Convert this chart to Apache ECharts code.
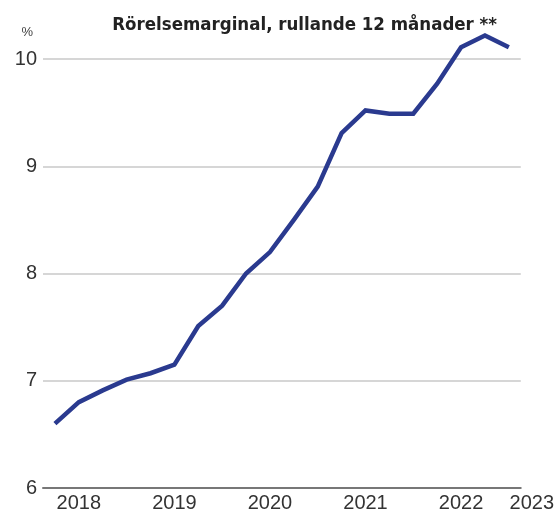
<!DOCTYPE html>
<html>
<head>
<meta charset="utf-8">
<script src="https://cdn.jsdelivr.net/npm/echarts@6/dist/echarts.min.js"></script>
<style>
  html, body { margin: 0; padding: 0; background: #fff; }
  #chart { width: 557px; height: 513px; }
</style>
</head>
<body>
<div id="chart"></div>
<script>
  // kvartal, rullande 12 mån
  var quarters = ['2017 K4', '2018 K1', '2018 K2', '2018 K3', '2018 K4',
    '2019 K1', '2019 K2', '2019 K3', '2019 K4',
    '2020 K1', '2020 K2', '2020 K3', '2020 K4',
    '2021 K1', '2021 K2', '2021 K3', '2021 K4',
    '2022 K1', '2022 K2', '2022 K3']
  var margin = [6.60, 6.80, 6.91, 7.01, 7.07, 7.15, 7.51, 7.70, 8.00, 8.20,
    8.50, 8.81, 9.31, 9.52, 9.49, 9.49, 9.77, 10.11, 10.22, 10.11]
  var yearLabels = ['2018', '2019', '2020', '2021', '2022', '2023']
  var yearIndex = [1, 5, 9, 13, 17, 19]

  var titleText = 'Rörelsemarginal, rullande 12 månader **'
  var labelFont = '"Liberation Sans", Arial, sans-serif'

  var chart = echarts.init(document.getElementById('chart'))
  chart.setOption({
    animation: false,
    title: {
      text: titleText,
      right: 55,
      top: 11,
      textStyle: {
        fontFamily: '"Liberation Sans Narrow", "DejaVu Sans Condensed", sans-serif',
        fontWeight: 'bold',
        fontSize: 18.5,
        color: '#222'
      }
    },
    grid: {
      left: 43,
      right: 33,
      top: 59,
      bottom: 24
    },
    xAxis: {
      type: 'category',
      data: quarters,
      boundaryGap: true,
      axisLine: { lineStyle: { color: '#777', width: 2 } },
      axisTick: { show: false },
      axisLabel: {
        interval: 0,
        margin: 5,
        fontFamily: labelFont,
        fontSize: 20,
        color: '#333',
        formatter: function (val, idx) {
          var k = yearIndex.indexOf(idx)
          if (k < 0) return ''
          if (k === yearLabels.length - 1) return '{last|' + yearLabels[k] + '}'
          return yearLabels[k]
        },
        rich: {
          last: {
            fontFamily: labelFont,
            fontSize: 20,
            color: '#333',
            padding: [0, 0, 0, 46]
          }
        }
      }
    },
    yAxis: {
      type: 'value',
      min: 6,
      max: 10,
      interval: 1,
      name: '%',
      nameLocation: 'end',
      nameGap: 20,
      nameTextStyle: {
        fontFamily: labelFont,
        fontSize: 13,
        color: '#444',
        align: 'right',
        padding: [0, 10, 0, 0]
      },
      axisLine: { show: false },
      axisTick: { show: false },
      axisLabel: {
        margin: 6,
        fontFamily: labelFont,
        fontSize: 20,
        color: '#333'
      },
      splitLine: { lineStyle: { color: '#c8c8c8', width: 1.5 } }
    },
    series: [{
      type: 'line',
      data: margin,
      clip: false,
      symbol: 'none',
      lineStyle: { color: '#2a3a8f', width: 4.5, join: 'miter' },
      z: 3
    }]
  })
</script>
</body>
</html>
